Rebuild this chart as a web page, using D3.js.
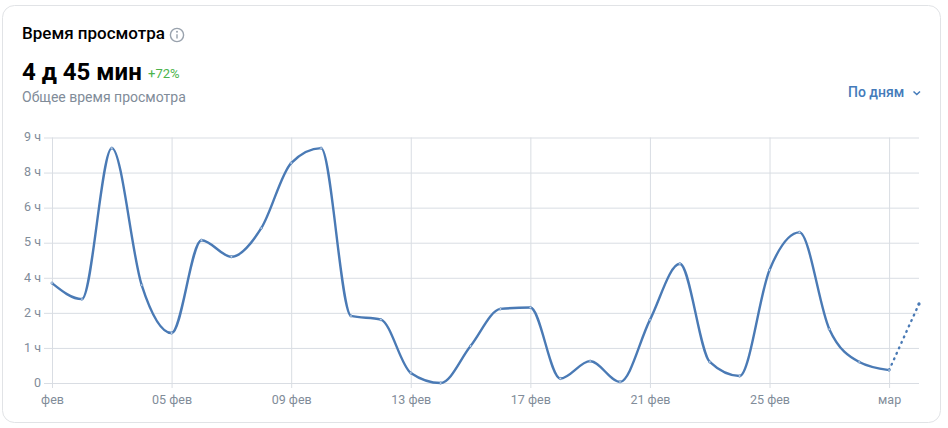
<!DOCTYPE html>
<html>
<head>
<meta charset="utf-8">
<script src="https://cdn.jsdelivr.net/npm/d3@7"></script>
<style>
  html, body { margin: 0; padding: 0; background: #fff; }
  text { font-family: Roboto, sans-serif; }
  .domain { display: none; }
</style>
</head>
<body>
<div id="chart"></div>
<script>
const days = ["01 фев", "02 фев", "03 фев", "04 фев", "05 фев", "06 фев", "07 фев", "08 фев", "09 фев", "10 фев",
  "11 фев", "12 фев", "13 фев", "14 фев", "15 фев", "16 фев", "17 фев", "18 фев", "19 фев", "20 фев",
  "21 фев", "22 фев", "23 фев", "24 фев", "25 фев", "26 фев", "27 фев", "28 фев", "01 мар", "02 мар"];
// hours per day
const hours = [3.56, 2.99, 8.37, 3.49, 1.78, 5.09, 4.5, 5.52, 7.84, 8.37,
  2.39, 2.26, 0.36, 0, 1.32, 2.64, 2.69, 0.16, 0.78, 0.04,
  2.25, 4.25, 0.75, 0.25, 4.03, 5.37, 1.92, 0.75, 0.46, 2.82];
const yTicks = [0, 1.25, 2.5, 3.75, 5, 6.25, 7.5, 8.75];
const yLabels = ["0", "1 ч", "2 ч", "4 ч", "5 ч", "6 ч", "8 ч", "9 ч"];
const xTicks = ["01 фев", "05 фев", "09 фев", "13 фев", "17 фев", "21 фев", "25 фев", "01 мар"];
const xLabels = ["фев", "05 фев", "09 фев", "13 фев", "17 фев", "21 фев", "25 фев", "мар"];

const width = 948;
const height = 428;
const gridColor = "#d9dde3";
const lineColor = "#4a7ab5";
const textGrey = "#818c99";

const svg = d3.select("#chart")
  .append("svg")
  .attr("width", width)
  .attr("height", height)
  .style("display", "block");

// card
svg.append("rect")
  .attr("x", 2.5)
  .attr("y", 5.5)
  .attr("width", 938)
  .attr("height", 417)
  .attr("rx", 12)
  .attr("fill", "#fff")
  .attr("stroke", "#e1e3e6");

// header
svg.append("text").attr("x", 22).attr("y", 39)
  .style("font-size", "17px").style("font-weight", 500).attr("fill", "#000")
  .text("Время просмотра");

const info = svg.append("g").attr("transform", "translate(177,35)");
info.append("circle").attr("r", 6.6).attr("fill", "none").attr("stroke", "#99a2ad").attr("stroke-width", 1.4);
info.append("line").attr("y1", -0.8).attr("y2", 3.6).attr("stroke", "#99a2ad").attr("stroke-width", 1.4);
info.append("circle").attr("cy", -3.2).attr("r", 1).attr("fill", "#99a2ad");

svg.append("text").attr("x", 22).attr("y", 80)
  .style("font-size", "24px").style("font-weight", 700).attr("fill", "#000")
  .text("4 д 45 мин");
svg.append("text").attr("x", 148).attr("y", 78)
  .style("font-size", "13px").attr("fill", "#4bb34b")
  .text("+72%");
svg.append("text").attr("x", 22).attr("y", 102)
  .style("font-size", "14px").attr("fill", textGrey)
  .text("Общее время просмотра");

svg.append("text").attr("x", 848).attr("y", 97)
  .style("font-size", "14px").style("font-weight", 500).attr("fill", "#447bba")
  .text("По дням");
svg.append("path")
  .attr("d", "M913.5 91.5 L916.8 94.5 L920 91.5")
  .attr("fill", "none")
  .attr("stroke", "#447bba")
  .attr("stroke-width", 1.5);

// scales
const x = d3.scalePoint().domain(days).range([52, 919]);
const y = d3.scaleLinear().domain([0, 8.75]).range([383, 137.5]);

// axes with gridlines
const yAxis = svg.append("g")
  .attr("transform", "translate(52,0)")
  .call(d3.axisLeft(y)
    .tickValues(yTicks)
    .tickFormat((d, i) => yLabels[i])
    .tickSizeInner(8)
    .tickSizeOuter(0));
yAxis.selectAll(".tick line").clone()
  .attr("x1", 0)
  .attr("x2", 867);
yAxis.selectAll(".tick line").attr("stroke", gridColor);
yAxis.selectAll(".tick text")
  .attr("x", -11)
  .attr("dy", "0.26em")
  .attr("fill", textGrey)
  .style("font-size", "12.5px")
  .style("font-family", "Roboto, sans-serif");

const xAxis = svg.append("g")
  .attr("transform", "translate(0,383)")
  .call(d3.axisBottom(x)
    .tickValues(xTicks)
    .tickFormat((d, i) => xLabels[i])
    .tickSizeInner(5)
    .tickSizeOuter(0));
xAxis.selectAll(".tick line").clone()
  .attr("y1", 0)
  .attr("y2", -245.5);
xAxis.selectAll(".tick line").attr("stroke", gridColor);
xAxis.selectAll(".tick text")
  .attr("y", 12)
  .attr("fill", textGrey)
  .style("font-size", "12.5px")
  .style("font-family", "Roboto, sans-serif");

// line, the last day is still in progress so it is dotted
const points = days.map((d, i) => ({ day: d, value: hours[i] }));
const line = d3.line()
  .x(d => x(d.day))
  .y(d => y(d.value))
  .curve(d3.curveMonotoneX);

svg.append("path")
  .datum(points.slice(0, -1))
  .attr("d", line)
  .attr("fill", "none")
  .attr("stroke", lineColor)
  .attr("stroke-width", 2.4);

svg.append("path")
  .datum(points.slice(-2))
  .attr("d", line)
  .attr("fill", "none")
  .attr("stroke", lineColor)
  .attr("stroke-width", 2.4)
  .attr("stroke-linecap", "round")
  .attr("stroke-dasharray", "0.8,5.2");

svg.append("g")
  .selectAll("circle")
  .data(points.slice(0, -1))
  .join("circle")
  .attr("cx", d => x(d.day))
  .attr("cy", d => y(d.value))
  .attr("r", 1.2)
  .attr("fill", "#fff")
  .attr("fill-opacity", 0.7)
  .attr("stroke", lineColor)
  .attr("stroke-width", 0.6);

// end point of the dotted part
svg.append("circle")
  .datum(points[points.length - 1])
  .attr("cx", d => x(d.day))
  .attr("cy", d => y(d.value))
  .attr("r", 1.6)
  .attr("fill", lineColor);
</script>
</body>
</html>
